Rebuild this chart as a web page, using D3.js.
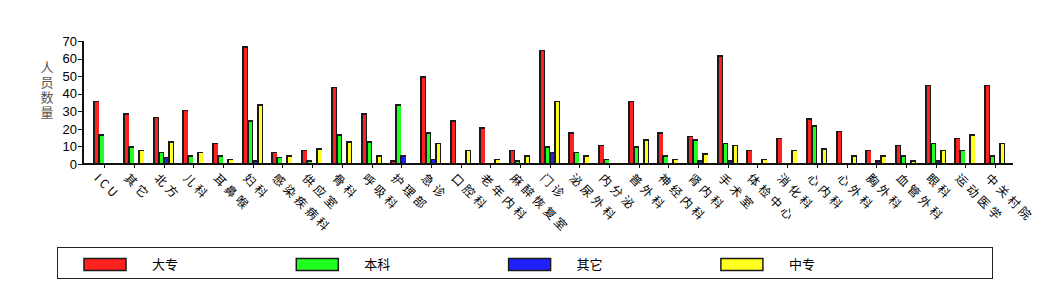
<!DOCTYPE html>
<html><head><meta charset="utf-8">
<script src="https://cdn.jsdelivr.net/npm/d3@7"></script>
<style>
html,body{margin:0;padding:0;background:#fff;}
svg{display:block;}
</style></head>
<body>
<script>
const categories = ["ICU","其它","北方","儿科","耳鼻喉","妇科","感染疾病科","供应室","骨科","呼吸科","护理部","急诊","口腔科","老年内科","麻醉恢复室","门诊","泌尿外科","内分泌","普外科","神经内科","肾内科","手术室","体检中心","消化科","心内科","心外科","胸外科","血管外科","眼科","运动医学","中关村院"];
const seriesNames = ["大专","本科","其它","中专"];
const seriesColors = ["#ff2020","#20ff20","#2020ff","#ffff20"];
const dazhuan = [36,29,27,31,12,67,7,8,44,29,2,50,25,21,8,65,18,11,36,18,16,62,8,15,26,19,8,11,45,15,45];
const benke   = [17,10,7,5,5,25,4,2,17,13,34,18,0,null,2,10,7,3,10,5,14,12,null,0,22,0,null,5,12,8,5];
const qita    = [0,0,4,0,null,2,null,null,0,null,5,3,null,null,null,7,null,null,null,0,2,2,0,null,null,null,2,null,2,null,0];
const zhongzhuan = [null,8,13,7,3,34,5,9,13,5,null,12,8,3,5,36,5,0,14,3,6,11,3,8,9,5,5,2,8,17,12];
const yTicks = [0,10,20,30,40,50,60,70];
const yTitle = "人员数量";

const seriesValues = [dazhuan, benke, qita, zhongzhuan];

const W = 1047, H = 302;
const svg = d3.select("body").append("svg").attr("width", W).attr("height", H);

const x = d3.scaleBand().domain(categories).range([89.5, 1009.8]);
const inner = d3.scaleBand().domain(seriesNames).range([-10, 10]);
const y = d3.scaleLinear().domain([0, 70]).range([164, 41]);
const base = y(0);

// bars
const g = svg.append("g").attr("shape-rendering", "crispEdges");
categories.forEach((c, i) => {
  const cx = x(c) + x.bandwidth() / 2;
  seriesNames.forEach((s, k) => {
    const v = seriesValues[k][i];
    if (v === null || v === undefined) return;
    const xs = cx + inner(s);
    const yt = Math.min(y(v), base - 1.5);
    g.append("rect").attr("x", xs - 1).attr("y", yt)
      .attr("width", inner.bandwidth() + 1).attr("height", base - yt)
      .attr("fill", "#1a1a1a");
    if (v > 0) {
      g.append("rect").attr("x", xs + 1).attr("y", yt + 1.5)
        .attr("width", inner.bandwidth() - 1.5).attr("height", Math.max(0, base - yt - 1.5))
        .attr("fill", seriesColors[k]);
    }
  });
});

// axes
const ax = svg.append("g").attr("shape-rendering", "crispEdges");
ax.append("rect").attr("x", 82).attr("y", 163).attr("width", 1013 - 82).attr("height", 2).attr("fill", "#111");
ax.append("rect").attr("x", 82).attr("y", 41).attr("width", 1.5).attr("height", 123).attr("fill", "#111");
yTicks.forEach(t => {
  ax.append("line").attr("x1", 78).attr("x2", 83).attr("y1", Math.round(y(t)) + 0.5).attr("y2", Math.round(y(t)) + 0.5)
    .attr("stroke", "#111").attr("stroke-width", 1);
  svg.append("text").attr("x", 77).attr("y", y(t)).attr("dy", "0.36em")
    .attr("text-anchor", "end").attr("font-family", "Liberation Sans, Arial, sans-serif")
    .attr("font-size", 13).attr("fill", "#000").text(t);
});
categories.forEach(c => {
  const cx = Math.round(x(c) + x.bandwidth() / 2) + 0.5;
  ax.append("line").attr("x1", cx).attr("x2", cx).attr("y1", 164).attr("y2", 168)
    .attr("stroke", "#111").attr("stroke-width", 1);
  svg.append("text")
    .attr("transform", `translate(${cx - 11},${179}) rotate(45)`)
    .attr("font-family", "Noto Sans CJK SC, sans-serif")
    .attr("font-size", 12).attr("letter-spacing", 3.5).attr("fill", "#000").text(c);
});

// y title, vertical stacked (single text, vertical writing mode)
svg.append("text").attr("x", 47).attr("y", 61)
  .style("writing-mode", "vertical-rl").style("text-orientation", "upright")
  .attr("letter-spacing", 2)
  .attr("font-family", "Noto Sans CJK SC, sans-serif")
  .attr("font-size", 13).attr("fill", "#555").text(yTitle);

// legend
const lg = svg.append("g");
lg.append("rect").attr("x", 57.5).attr("y", 247.5).attr("width", 935).attr("height", 31)
  .attr("fill", "none").attr("stroke", "#222").attr("stroke-width", 1);
const legendX = d3.scaleBand().domain(seriesNames).range([84, 84 + 4 * 212.3]);
seriesNames.forEach((s, k) => {
  const lx = legendX(s);
  lg.append("rect").attr("x", lx).attr("y", 258.5).attr("width", 42).attr("height", 12)
    .attr("fill", seriesColors[k]).attr("stroke", "#1a1a1a").attr("stroke-width", 1.5);
  lg.append("text").attr("x", lx + 68).attr("y", 264.5).attr("dy", "0.36em")
    .attr("font-family", "Noto Sans CJK SC, sans-serif").attr("font-size", 13)
    .attr("fill", "#000").text(s);
});
</script>
</body></html>
